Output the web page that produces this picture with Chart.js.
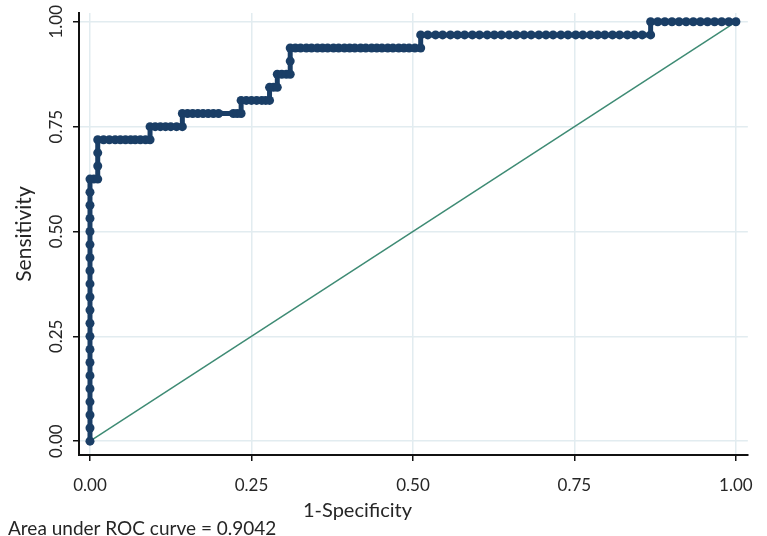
<!DOCTYPE html>
<html>
<head>
<meta charset="utf-8">
<script src="https://cdn.jsdelivr.net/npm/chart.js@4"></script>
<style>
  html, body { margin: 0; padding: 0; background: #fff; }
  #wrap { width: 767px; height: 536px; }
</style>
</head>
<body>
<div id="wrap"><canvas id="rocChart"></canvas></div>
<script>
// sensitivity levels (k/32) and the 1-specificity values of the points sitting on each level
const sensLevels = [
  0, 0.03125, 0.0625, 0.09375, 0.125, 0.15625, 0.1875, 0.21875, 0.25, 0.28125,
  0.3125, 0.34375, 0.375, 0.40625, 0.4375, 0.46875, 0.5, 0.53125, 0.5625, 0.59375,
  0.625, 0.65625, 0.6875, 0.71875, 0.75, 0.78125, 0.8125, 0.84375, 0.875, 0.90625,
  0.9375, 0.96875, 1
];
const fprAtLevel = [
  [0], [0], [0], [0], [0], [0], [0], [0], [0], [0],
  [0], [0], [0], [0], [0], [0], [0], [0], [0], [0],
  [0, 0.006, 0.012],
  [0.012],
  [0.012],
  [0.012, 0.021, 0.03, 0.039, 0.047, 0.055, 0.063, 0.07, 0.078, 0.086, 0.093],
  [0.093, 0.101, 0.109, 0.117, 0.125, 0.134, 0.143],
  [0.143, 0.151, 0.159, 0.167, 0.175, 0.183, 0.191, 0.199, 0.222, 0.228, 0.234],
  [0.234, 0.242, 0.25, 0.258, 0.266, 0.272, 0.278],
  [0.278, 0.284, 0.29],
  [0.29, 0.297, 0.304, 0.31],
  [0.31],
  [0.31, 0.318, 0.326, 0.335, 0.343, 0.352, 0.36, 0.368, 0.377, 0.385, 0.394, 0.402, 0.41,
   0.419, 0.427, 0.436, 0.444, 0.452, 0.461, 0.469, 0.478, 0.486, 0.494, 0.503, 0.512],
  [0.512, 0.523, 0.535, 0.546, 0.558, 0.569, 0.58, 0.592, 0.603, 0.615, 0.626, 0.637, 0.649,
   0.66, 0.672, 0.683, 0.695, 0.706, 0.717, 0.729, 0.74, 0.752, 0.763, 0.775, 0.786, 0.797,
   0.809, 0.82, 0.832, 0.843, 0.855, 0.868],
  [0.868, 0.879, 0.89, 0.901, 0.912, 0.923, 0.934, 0.945, 0.956, 0.967, 0.978, 0.989, 1]
];
const refX = [0, 1];
const refY = [0, 1];
const tickValues = [0, 0.25, 0.5, 0.75, 1];
const aucText = 'Area under ROC curve = 0.9042';
const xTitle = '1-Specificity';
const yTitle = 'Sensitivity';

const rocPoints = [];
sensLevels.forEach((s, i) => {
  fprAtLevel[i].forEach((f) => rocPoints.push({ x: f, y: s }));
});

const FONT = 'Lato, "Open Sans", sans-serif';
const TEXT = '#262626';

const footerText = {
  id: 'footerText',
  afterDraw(chart) {
    const c = chart.ctx;
    c.save();
    c.fillStyle = TEXT;
    c.textBaseline = 'alphabetic';
    c.textAlign = 'left';
    c.font = '20px ' + FONT;
    c.fillText(xTitle, 303, 517);
    c.font = '19px ' + FONT;
    c.fillText(aucText, 8, 535);
    c.restore();
  },
};

new Chart(document.getElementById('rocChart'), {
  type: 'scatter',
  data: {
    datasets: [
      {
        label: 'ROC',
        data: rocPoints,
        showLine: true,
        borderColor: '#1a3e66',
        backgroundColor: '#1a3e66',
        borderWidth: 5,
        pointRadius: 4.5,
        pointBorderWidth: 0,
        pointStyle: 'circle',
        order: 1,
      },
      {
        label: 'Reference',
        data: refX.map((x, i) => ({ x: x, y: refY[i] })),
        showLine: true,
        borderColor: '#3e8b74',
        borderWidth: 1.5,
        pointRadius: 0,
        order: 2,
      },
    ],
  },
  options: {
    responsive: true,
    maintainAspectRatio: false,
    animation: false,
    layout: { autoPadding: false, padding: { top: 13, right: 17, left: 0, bottom: 0 } },
    plugins: { legend: { display: false }, tooltip: { enabled: false } },
    scales: {
      x: {
        type: 'linear',
        min: -0.017,
        max: 1.0185,
        afterBuildTicks: (scale) => { scale.ticks = tickValues.map((v) => ({ value: v })); },
        afterFit: (scale) => { scale.height = 81; },
        ticks: {
          callback: (v) => Number(v).toFixed(2),
          color: TEXT,
          font: { family: FONT, size: 17 },
          padding: 14,
          maxRotation: 0,
        },
        grid: { color: '#e2ecf0', lineWidth: 1.5, tickColor: '#111', tickLength: 6, tickWidth: 1.5 },
        border: { display: true, color: '#111', width: 2 },
      },
      y: {
        type: 'linear',
        min: -0.033,
        max: 1.021,
        afterBuildTicks: (scale) => { scale.ticks = tickValues.map((v) => ({ value: v })); },
        afterFit: (scale) => { scale.width = 79; },
        ticks: {
          callback: (v) => Number(v).toFixed(2),
          color: TEXT,
          font: { family: FONT, size: 17 },
          minRotation: 90,
          maxRotation: 90,
          crossAlign: 'center',
          padding: 0,
        },
        grid: { color: '#e2ecf0', lineWidth: 1.5, tickColor: '#111', tickLength: 6, tickWidth: 1.5 },
        border: { display: true, color: '#111', width: 2 },
        title: {
          display: true,
          text: yTitle,
          color: TEXT,
          font: { family: FONT, size: 21 },
          padding: { top: 12, bottom: 0 },
        },
      },
    },
  },
  plugins: [footerText],
});
</script>
</body>
</html>
